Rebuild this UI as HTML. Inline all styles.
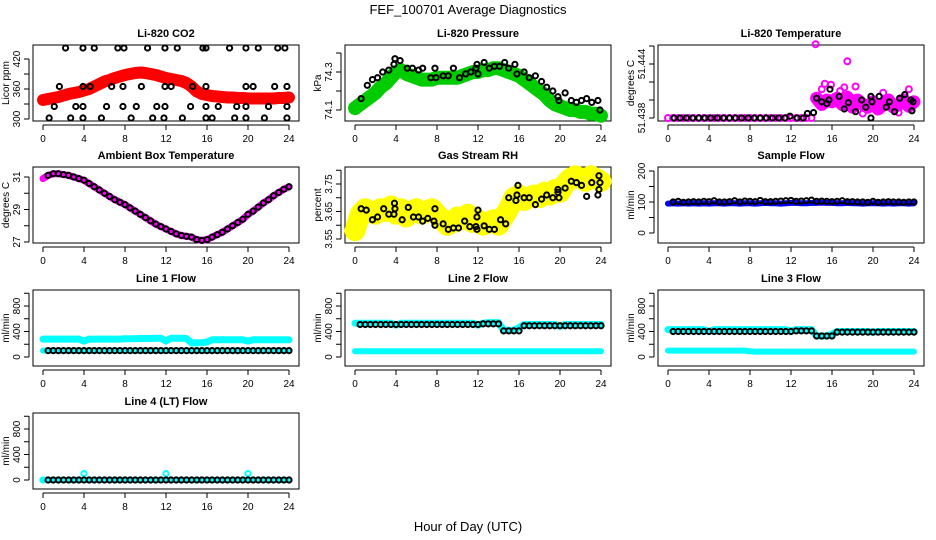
<!DOCTYPE html>
<html><head><meta charset="utf-8">
<style>
body{margin:0;background:#fff;}
svg{display:block;font-family:"Liberation Sans",sans-serif;}
</style></head>
<body>
<svg id="chart" width="936" height="540" viewBox="0 0 936 540" xmlns="http://www.w3.org/2000/svg">
<text x="468" y="14" text-anchor="middle" font-size="13">FEF_100701  Average Diagnostics</text>
<text x="468" y="531" text-anchor="middle" font-size="13">Hour of Day (UTC)</text>
</svg>
<script>
const hours = [0,0.5,1,1.5,2,2.5,3,3.5,4,4.5,5,5.5,6,6.5,7,7.5,8,8.5,9,9.5,10,10.5,11,11.5,12,12.5,13,13.5,14,14.5,15,15.5,16,16.5,17,17.5,18,18.5,19,19.5,20,20.5,21,21.5,22,22.5,23,23.5,24];
const xTicks = [0,4,8,12,16,20,24];

const co2Red = [338,340,342,344,347,350,352,354,357,360,365,370,375,378,382,385,388,390,392,393,392,390,388,385,382,380,378,376,372,365,355,350,348,346,345,344,343,343,342,342,341,341,341,341,341,341,342,342,343];
const co2BlackHours = [2.2,3.9,5.0,7.3,7.9,10.2,11.9,13.1,15.6,15.9,18.2,19.8,21.0,22.9,23.6,1.6,3.9,4.6,6.7,7.8,9.6,11.9,12.5,14.6,15.9,19.8,20.5,22.6,23.8,1.1,3.2,3.9,6.2,7.8,9.1,11.1,11.9,14.4,15.9,17.1,18.9,19.8,22.0,23.8,0.6,2.7,3.9,5.7,8.6,10.7,11.8,13.6,15.9,16.5,18.7,19.8,21.6,23.8];
const co2BlackValues = [442,442,442,442,442,442,442,442,442,442,442,442,442,442,442,365,365,365,365,365,365,365,365,365,365,365,365,365,365,325,325,325,325,325,325,325,325,325,325,325,325,325,325,325,302,302,302,302,302,302,302,302,302,302,302,302,302,302];

const presGreen = [74.11,74.13,74.15,74.17,74.19,74.22,74.24,74.27,74.30,74.31,74.29,74.28,74.27,74.26,74.26,74.26,74.27,74.27,74.27,74.27,74.27,74.28,74.29,74.30,74.30,74.31,74.31,74.32,74.32,74.31,74.30,74.29,74.28,74.26,74.24,74.22,74.20,74.18,74.15,74.13,74.12,74.11,74.10,74.10,74.09,74.09,74.08,74.08,74.07];
const presBlackHours = [0.6,1.2,1.7,2.2,2.7,3.3,3.8,3.9,4.4,5.1,5.6,6.2,6.6,7.4,7.8,7.9,8.6,9.1,9.6,10.2,10.8,11.3,11.8,11.9,12.0,12.6,13.1,13.6,14.1,14.6,15.0,15.6,15.8,16.5,17.0,17.6,18.2,18.7,19.3,19.8,19.9,20.5,21.1,21.6,22.1,22.6,23.1,23.7,23.9];
const presBlackValues = [74.16,74.23,74.26,74.27,74.30,74.31,74.34,74.37,74.36,74.32,74.32,74.31,74.32,74.27,74.32,74.27,74.28,74.28,74.32,74.27,74.29,74.30,74.32,74.34,74.29,74.35,74.32,74.33,74.33,74.35,74.32,74.34,74.29,74.30,74.27,74.28,74.25,74.22,74.20,74.17,74.15,74.19,74.15,74.14,74.15,74.16,74.14,74.15,74.10];

const tempMagenta = [51.438,51.438,51.438,51.438,51.438,51.438,51.438,51.438,51.438,51.438,51.438,51.438,51.438,51.438,51.438,51.438,51.438,51.438,51.438,51.438,51.438,51.438,51.438,51.438,51.438,51.438,51.438,51.438,51.438,51.4402,51.4395,51.4400,51.4398,51.4402,51.4395,51.4403,51.4392,51.4400,51.4395,51.4392,51.4398,51.4390,51.4395,51.4400,51.4392,51.4395,51.4400,51.4393,51.4398];
const tempOutHours = [14.4,17.5,15.3,18.3,15.9,21.0,23.5,15.0,16.8,17.2,19.0,22.5];
const tempOutValues = [51.4462,51.4443,51.4418,51.4415,51.4417,51.4408,51.4412,51.4412,51.4410,51.4414,51.4385,51.4386];
const tempBlackHours = [0.6,1.2,1.8,2.4,3.0,3.6,4.2,4.8,5.4,6.0,6.6,7.2,7.8,8.4,9.0,9.6,10.2,10.8,11.4,11.9,12.6,13.2,13.6,14.2,14.5,15.0,15.5,15.8,15.7,16.7,17.2,17.6,18.3,18.9,19.3,19.8,19.8,19.9,20.6,21.3,21.6,22.1,22.6,23.1,23.7,23.8,23.9];
const tempBlackValues = [51.438,51.438,51.438,51.438,51.438,51.438,51.438,51.438,51.438,51.438,51.438,51.438,51.438,51.438,51.438,51.438,51.438,51.438,51.438,51.4382,51.438,51.438,51.4385,51.4386,51.4402,51.4398,51.4396,51.4412,51.4400,51.4404,51.4390,51.4397,51.4387,51.4400,51.4392,51.4404,51.4380,51.4398,51.4404,51.4392,51.4398,51.4387,51.4402,51.4406,51.4400,51.4388,51.4398];

const ambient = [30.9,31.1,31.2,31.2,31.15,31.1,31.0,30.9,30.8,30.6,30.4,30.2,30.0,29.8,29.6,29.45,29.3,29.1,28.9,28.7,28.5,28.3,28.1,27.95,27.8,27.65,27.5,27.4,27.35,27.3,27.15,27.1,27.15,27.3,27.45,27.6,27.8,28.0,28.2,28.4,28.7,28.9,29.15,29.4,29.6,29.85,30.05,30.25,30.4];

const rhYellow = [3.58,3.64,3.66,3.65,3.64,3.66,3.65,3.67,3.64,3.66,3.63,3.65,3.66,3.64,3.65,3.66,3.64,3.62,3.60,3.61,3.63,3.62,3.64,3.61,3.62,3.60,3.61,3.62,3.60,3.63,3.66,3.70,3.71,3.69,3.70,3.71,3.70,3.72,3.71,3.73,3.72,3.75,3.77,3.78,3.77,3.76,3.78,3.77,3.76];
const rhBlackHours = [0.6,1.1,1.7,2.2,2.8,3.3,3.8,3.9,3.85,4.6,5.2,5.7,6.2,6.6,7.1,7.7,7.8,7.8,8.6,9.1,9.6,10.1,10.7,11.2,11.8,11.9,11.9,12.0,12.6,13.1,13.6,14.2,14.7,15.0,15.7,15.8,15.9,16.5,17.0,17.6,18.2,18.7,19.3,19.8,19.8,19.9,20.5,21.1,21.6,22.1,22.6,23.1,23.7,23.8,23.8,23.9];
const rhBlackValues = [3.660,3.655,3.620,3.630,3.660,3.640,3.640,3.660,3.680,3.620,3.665,3.630,3.630,3.615,3.625,3.615,3.600,3.660,3.605,3.585,3.590,3.590,3.615,3.595,3.595,3.630,3.585,3.655,3.598,3.585,3.585,3.620,3.605,3.700,3.690,3.710,3.745,3.700,3.700,3.675,3.695,3.710,3.700,3.720,3.730,3.700,3.735,3.760,3.755,3.745,3.705,3.755,3.710,3.730,3.780,3.755];

const sampleBlue = [95,96,95,96,95,96,95,96,95,96,96,95,96,96,95,96,96,95,96,97,96,96,95,96,97,97,96,96,97,97,98,97,97,96,96,97,96,96,95,96,96,96,95,96,95,96,96,95,96];
const sampleBlack = [100,100,102,99,100,101,100,102,101,104,100,100,101,104,100,103,102,101,105,101,101,102,103,104,105,102,103,104,106,102,103,102,101,102,104,101,101,100,100,99,102,99,100,101,100,100,99,100,100];

const line1Upper = [280,280,280,280,280,280,280,280,250,280,280,280,280,280,280,280,285,285,285,290,290,290,295,295,250,295,295,295,290,220,225,225,235,270,270,270,270,270,270,270,250,270,270,270,270,270,270,270,270];
const line1Lower = [100,100,100,100,100,100,100,100,100,100,100,100,100,100,100,100,100,100,100,100,100,100,100,100,100,100,100,100,100,100,100,100,100,100,100,100,100,100,100,100,100,100,100,100,100,100,100,100,100];
const line1Black = [100,100,100,100,100,100,100,100,100,100,100,100,100,100,100,100,100,100,100,100,100,100,100,100,100,100,100,100,100,100,100,100,100,100,100,100,100,100,100,100,100,100,100,100,100,100,100,100,100];

const line2Upper = [530,530,530,530,530,530,530,530,500,530,530,530,530,530,530,530,530,530,530,530,530,530,530,530,500,530,540,540,540,420,420,420,460,510,510,510,510,510,510,510,480,510,510,510,510,510,510,510,510];
const line2Lower = [90,90,90,90,90,90,90,90,90,90,90,90,90,90,90,90,90,90,90,90,90,90,90,90,90,90,90,90,90,90,90,90,90,90,90,90,90,90,90,90,90,90,90,90,90,90,90,90,90];
const line2Black = [510,510,510,510,510,510,510,510,510,510,510,510,510,510,510,510,510,510,510,510,510,510,510,510,510,520,520,520,520,410,410,410,410,490,490,490,490,490,490,490,490,490,490,490,490,490,490,490,490];

const line3Upper = [430,430,430,430,430,430,430,430,400,430,430,430,430,430,430,430,430,430,430,430,430,430,430,430,410,430,430,430,430,330,330,330,360,400,400,400,400,400,400,400,390,400,400,400,400,400,400,400,400];
const line3Lower = [100,100,100,100,100,100,100,100,100,100,100,100,100,100,100,100,90,85,85,85,85,85,85,85,85,85,85,85,85,85,85,85,85,85,85,85,85,85,85,85,85,85,85,85,85,85,85,85,85];
const line3Black = [400,400,400,400,400,400,400,400,400,400,400,400,400,400,400,400,400,400,400,400,400,400,400,400,400,410,410,410,410,330,330,330,330,390,390,390,390,390,390,390,390,390,390,390,390,390,390,390,390];

const line4Cyan = [0,0,0,0,0,0,0,0,100,0,0,0,0,0,0,0,0,0,0,0,0,0,0,0,100,0,0,0,0,0,0,0,0,0,0,0,0,0,0,0,100,0,0,0,0,0,0,0,0];
const line4Black = [0,0,0,0,0,0,0,0,0,0,0,0,0,0,0,0,0,0,0,0,0,0,0,0,0,0,0,0,0,0,0,0,0,0,0,0,0,0,0,0,0,0,0,0,0,0,0,0,0];

const NS = 'http://www.w3.org/2000/svg';
const svg = document.getElementById('chart');
function mk(tag, attrs, parent){const e=document.createElementNS(NS,tag);for(const k in attrs)e.setAttribute(k,attrs[k]);(parent||svg).appendChild(e);return e;}

const colX = [43,355,668];
const rowTop = [45,167,290,413];
const W24 = 246, BH = 76;

function panel(name, col, row, title, ylab, v0, y0, v1, y1, ticks, labels){
  const g = mk('g',{});
  
  
  const x0 = colX[col], top = rowTop[row], bot = top+BH;
  const left = x0-10, right = x0+W24+10;
  const sx = h => x0 + h/24*W24;
  const sy = v => y0 + (v-v0)*(y1-y0)/(v1-v0);
  const t = mk('text',{x:(left+right)/2,y:top-8,'text-anchor':'middle','font-size':'11','font-weight':'bold'},g);
  t.textContent = title;
  
  
  const box = mk('rect',{x:left,y:top,width:right-left,height:BH,fill:'none',stroke:'#000','stroke-width':1},g);
  
  
  const xa = mk('g',{},g);
  
  
  mk('line',{x1:sx(0),x2:sx(24),y1:bot+4,y2:bot+4,stroke:'#000'},xa);
  xTicks.forEach(h=>{
    mk('line',{x1:sx(h),x2:sx(h),y1:bot+4,y2:bot+9,stroke:'#000'},xa);
    const l = mk('text',{x:sx(h),y:bot+21,'text-anchor':'middle','font-size':'10'},xa);
    l.textContent = h;
  });
  const ya = mk('g',{},g);
  
  
  mk('line',{x1:left-4,x2:left-4,y1:sy(ticks[0]),y2:sy(ticks[ticks.length-1]),stroke:'#000'},ya);
  ticks.forEach(v=>{
    mk('line',{x1:left-9,x2:left-4,y1:sy(v),y2:sy(v),stroke:'#000'},ya);
  });
  labels.forEach(v=>{
    const l = mk('text',{x:0,y:0,'text-anchor':'middle','font-size':'10',transform:`translate(${left-13},${sy(v)}) rotate(-90)`},ya);
    l.textContent = v;
  });
  const yl = mk('text',{x:0,y:0,'text-anchor':'middle','font-size':'10',transform:`translate(${left-24},${(top+bot)/2}) rotate(-90)`},g);
  yl.textContent = ylab;
  
  
  return {g,sx,sy};
}

function band(p, name, hs, vs, color, width, fromHour){
  const pts = [];
  hs.forEach((h,i)=>{ if(h>=fromHour) pts.push(p.sx(h).toFixed(1)+','+p.sy(vs[i]).toFixed(1)); });
  const pl = mk('polyline',{points:pts.join(' '),fill:'none',stroke:color,'stroke-width':width,'stroke-linejoin':'round','stroke-linecap':'round'},p.g);
  
  
}
function points(p, name, hs, vs, color, r){
  const g = mk('g',{},p.g);
  
  
  hs.forEach((h,i)=>{
    const c = mk('circle',{cx:p.sx(h),cy:p.sy(vs[i]),r:r||2.6,fill:'none',stroke:color,'stroke-width':2},g);
    
    
  });
}
const hoursB = hours.slice(1);

let p = panel('co2-panel',0,0,'Li-820 CO2','Licor ppm',300,119,420,59,[300,330,360,390,420],[300,360,420]);
band(p,'co2-red',hours,co2Red,'#f00',12,0); points(p,'co2-red',hours,co2Red,'#f00',3);
points(p,'co2-black',co2BlackHours,co2BlackValues,'#000');
p = panel('pressure-panel',1,0,'Li-820 Pressure','kPa',74.1,110,74.3,72,[74.1,74.2,74.3,74.4],[74.1,74.3]);
band(p,'pressure-green',hours,presGreen,'#0c0',14,0); points(p,'pressure-green',hours,presGreen,'#0c0',3);
points(p,'pressure-black',presBlackHours,presBlackValues,'#000');
p = panel('temperature-panel',2,0,'Li-820 Temperature','degrees C',51.438,118,51.444,64,[51.438,51.440,51.442,51.444,51.446],[51.438,51.444]);
band(p,'temp-magenta',hours,tempMagenta,'#f0f',13,14.5); points(p,'temp-magenta',hours,tempMagenta,'#f0f',3);
points(p,'temp-outliers',tempOutHours,tempOutValues,'#f0f',3);
points(p,'temp-black',tempBlackHours,tempBlackValues,'#000');
p = panel('ambient-panel',0,1,'Ambient Box Temperature','degrees C',27,242,31,177,[27,28,29,30,31],[27,29,31]);
band(p,'ambient-magenta',hours,ambient,'#f0f',7,0);
points(p,'ambient-black',hoursB,ambient.slice(1),'#000');
p = panel('rh-panel',1,1,'Gas Stream RH','percent',3.55,239,3.75,184,[3.55,3.60,3.65,3.70,3.75,3.80],[3.55,3.65,3.75]);
band(p,'rh-yellow',hours,rhYellow,'#ff0',21,0); points(p,'rh-yellow',hours,rhYellow,'#ff0',3);
points(p,'rh-black',rhBlackHours,rhBlackValues,'#000');
p = panel('sample-flow-panel',2,1,'Sample Flow','ml/min',0,233,200,171,[0,50,100,150,200],[0,100,200]);
band(p,'sample-blue',hours,sampleBlue,'#00f',6,0);
points(p,'sample-black',hoursB,sampleBlack.slice(1),'#000');
const lt=[0,200,400,600,800,1000], ll=[0,400,800];
p = panel('line1-panel',0,2,'Line 1 Flow','ml/min',0,357,800,306,lt,ll);
band(p,'line1-upper',hours,line1Upper,'#0ff',7,0); band(p,'line1-lower',hours,line1Lower,'#0ff',6,0);
points(p,'line1-black',hoursB,line1Black.slice(1),'#000');
p = panel('line2-panel',1,2,'Line 2 Flow','ml/min',0,357,800,306,lt,ll);
band(p,'line2-upper',hours,line2Upper,'#0ff',7,0); band(p,'line2-lower',hours,line2Lower,'#0ff',6,0);
points(p,'line2-black',hoursB,line2Black.slice(1),'#000');
p = panel('line3-panel',2,2,'Line 3 Flow','ml/min',0,357,800,306,lt,ll);
band(p,'line3-upper',hours,line3Upper,'#0ff',7,0); band(p,'line3-lower',hours,line3Lower,'#0ff',6,0);
points(p,'line3-black',hoursB,line3Black.slice(1),'#000');
p = panel('line4-panel',0,3,'Line 4 (LT) Flow','ml/min',0,480,800,429,lt,ll);
band(p,'line4-cyan',hours,line4Cyan.map(()=>0),'#0ff',5,0);
points(p,'line4-cyan',hours,line4Cyan,'#0ff',2.6);
points(p,'line4-black',hoursB,line4Black.slice(1),'#000');
</script>
</body></html>
